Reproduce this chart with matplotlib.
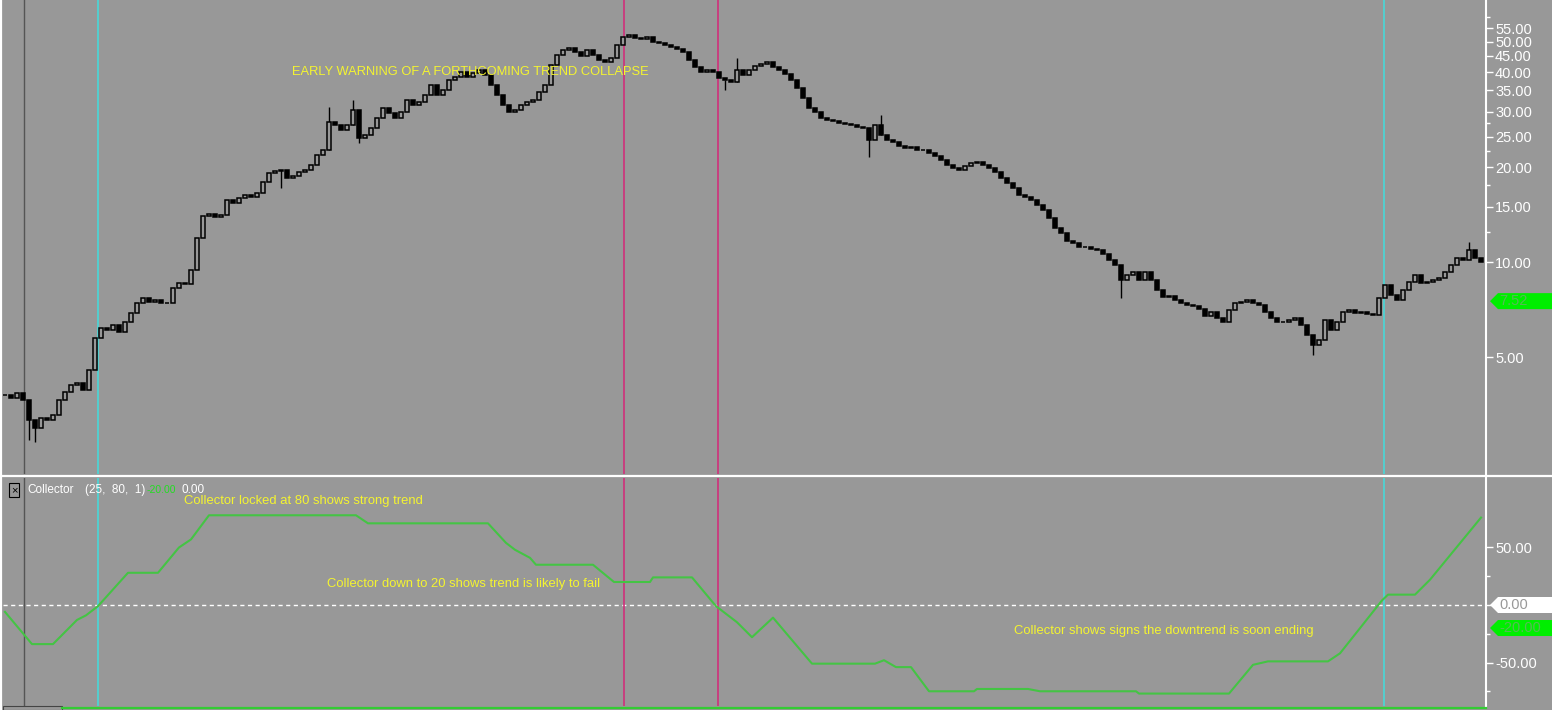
import numpy as np
import matplotlib
matplotlib.use("Agg")
import matplotlib.pyplot as plt
from matplotlib.patches import Polygon, Rectangle
from matplotlib.lines import Line2D
from matplotlib.ticker import FixedLocator, FormatStrFormatter, NullFormatter

# price bars (one close per bar, open = previous close)
closes = [
    3.79, 3.70, 3.84, 3.65, 3.16, 2.98, 3.21, 3.16, 3.27, 3.65,
    3.87, 4.07, 4.13, 3.93, 4.55, 5.74, 6.18, 6.09, 6.32, 6.00,
    6.46, 6.90, 7.42, 7.69, 7.47, 7.58, 7.42, 7.42, 8.28, 8.58,
    8.52, 9.43, 11.9, 14.0, 14.2, 13.9, 14.1, 15.7, 15.4, 16.0,
    16.3, 16.1, 16.5, 17.9, 19.2, 19.4, 19.6, 18.5, 18.7, 19.3,
    19.6, 20.3, 21.8, 22.7, 27.8, 27.2, 26.2, 27.2, 30.3, 24.7,
    25.3, 26.6, 28.6, 30.8, 29.7, 28.6, 29.9, 32.6, 31.5, 32.2,
    33.8, 36.4, 33.8, 35.1, 37.8, 38.6, 40.0, 38.6, 39.8, 40.6,
    39.1, 36.4, 33.8, 31.5, 29.9, 30.3, 31.5, 32.2, 32.6, 34.6,
    36.4, 42.1, 45.3, 46.9, 47.6, 46.3, 45.0, 46.9, 45.3, 43.7,
    43.0, 44.4, 48.8, 51.6, 52.5, 51.3, 51.0, 51.6, 49.9, 49.5,
    48.8, 48.0, 47.3, 46.3, 43.7, 41.5, 40.0, 40.6, 40.0, 38.3,
    37.8, 37.2, 40.6, 39.1, 40.6, 41.8, 42.4, 43.0, 41.5, 40.6,
    39.4, 37.8, 35.6, 33.1, 30.8, 29.9, 28.6, 28.2, 28.0, 27.6,
    27.4, 27.2, 26.8, 26.6, 24.4, 27.2, 25.3, 24.4, 24.0, 23.3,
    23.0, 23.2, 22.7, 22.7, 22.2, 21.7, 21.0, 20.3, 19.9, 19.6,
    20.2, 20.6, 20.8, 20.3, 19.9, 19.3, 18.5, 17.8, 17.2, 16.3,
    16.1, 15.7, 15.2, 14.6, 13.8, 12.8, 12.4, 11.7, 11.5, 11.2,
    11.2, 11.0, 10.9, 10.6, 10.15, 9.8, 8.8, 9.1, 9.3, 8.8,
    9.3, 8.8, 8.15, 7.75, 7.80, 7.58, 7.42, 7.31, 7.26, 7.10,
    6.75, 6.95, 6.65, 6.46, 7.05, 7.42, 7.47, 7.58, 7.42, 7.31,
    6.95, 6.65, 6.46, 6.46, 6.55, 6.65, 6.32, 5.87, 5.46, 5.66,
    6.55, 6.09, 6.46, 6.95, 7.05, 6.90, 6.95, 6.85, 6.80, 7.69,
    8.45, 7.86, 7.58, 8.15, 8.64, 9.10, 8.58, 8.64, 8.77, 8.90,
    9.30, 9.80, 10.3, 10.15, 10.9, 10.3, 10.0,
]

# a few bars with long wicks
wick_bars = [4, 5, 46, 54, 58, 59, 120, 122, 144, 146, 186, 218, 244]
wick_high = [3.65, 3.16, 19.6, 31.0, 32.6, 30.3, 37.8, 44.3, 26.6, 29.2, 9.3, 5.66, 11.6]
wick_low = [2.72, 2.69, 17.2, 22.7, 27.2, 23.8, 35.1, 37.2, 21.5, 25.3, 7.7, 5.07, 10.9]

# collector indicator vertices (bar, value)
coll_bars = [0, 4.5, 8, 12, 13.5, 15.5, 20.5, 25.5, 29, 31, 34, 58.5, 60.5, 80.5,
             83.5, 85, 87.5, 88.5, 98, 101.5, 107.5, 108, 114.5, 118.5, 122, 124.5,
             128, 134.5, 145, 146.5, 148.5, 151, 154, 161.5, 162, 170.5, 172.5,
             188.5, 189, 204, 208, 210.5, 220.5, 222.5, 229.5, 230.5, 235, 237.5, 246]
coll_vals = [-6, -34, -34, -13, -9, -1, 28, 28, 50, 57, 78, 78, 71, 71,
             54, 48, 41, 35, 35, 20, 20, 24, 24, -1, -15, -28,
             -11, -51, -51, -48, -54, -54, -75, -75, -73, -73, -75,
             -75, -77, -77, -52, -49, -49, -42, 4, 9, 9, 22, 76]

cyan_bars = [15.5, 229.8]
magenta_bars = [103.2, 118.8]
cursor_bar = 3.2

price_ticks = [5, 10, 15, 20, 25, 30, 35, 40, 45, 50, 55]
price_minor = [12.5, 17.5, 22.5, 27.5, 60]
coll_ticks = [-50, 0, 50]
coll_minor = [-75, -25, 25]

BG = "#989898"
W, H = 1552, 710
plt.rcParams["font.family"] = ["Liberation Sans", "DejaVu Sans"]

fig = plt.figure(figsize=(W / 100, H / 100), dpi=100, facecolor=BG)
ax = fig.add_axes([3 / W, (H - 474) / H, 1483 / W, 474 / H], facecolor=BG)
ax2 = fig.add_axes([3 / W, 4 / H, 1483 / W, 228 / H], facecolor=BG, sharex=ax)

n = len(closes)
x = np.arange(n)
opens = [closes[0]] + closes[:-1]
c = np.array(closes)
o = np.array(opens)
up = c >= o

# wicks
ax.vlines(wick_bars, wick_low, wick_high, color="black", lw=1.0, zorder=3)
# candle bodies
ax.bar(x[up], (c - o)[up], bottom=o[up], width=0.55, facecolor=BG,
       edgecolor="black", linewidth=1.1, zorder=4)
ax.bar(x[~up], (o - c)[~up], bottom=c[~up], width=0.55, facecolor="black",
       edgecolor="black", linewidth=1.1, zorder=4)

ax.set_yscale("log")
ax.set_ylim(2.13, 67.7)
ax.set_xlim(-0.33, 246.83)

ax2.plot(coll_bars, coll_vals, color="#44c444", lw=1.5, zorder=4)
ax2.axhline(0, color="white", lw=1.0, ls=(0, (3, 2.5)), zorder=2)
ax2.set_ylim(-87.8, 110.4)

for a in (ax, ax2):
    for b in cyan_bars:
        a.axvline(b, color="#48d8d8", lw=1.2, zorder=2)
    for b in magenta_bars:
        a.axvline(b, color="#d0307a", lw=1.2, zorder=2)
    a.axvline(cursor_bar, color="#555555", lw=1.0, zorder=1)
    for s in ("left", "top", "bottom"):
        a.spines[s].set_visible(False)
    a.spines["right"].set_color("white")
    a.spines["right"].set_linewidth(1.5)
    a.yaxis.tick_right()
    a.tick_params(axis="y", which="both", colors="white", direction="out",
                  labelsize=10.5, pad=1.5)
    a.tick_params(axis="y", which="major", length=5, width=1)
    a.tick_params(axis="y", which="minor", length=3, width=1)
    a.tick_params(axis="x", which="both", bottom=False, labelbottom=False)

ax.yaxis.set_major_locator(FixedLocator(price_ticks))
ax.yaxis.set_minor_locator(FixedLocator(price_minor))
ax.yaxis.set_major_formatter(FormatStrFormatter("%.2f"))
ax.yaxis.set_minor_formatter(NullFormatter())
ax2.yaxis.set_major_locator(FixedLocator(coll_ticks))
ax2.yaxis.set_minor_locator(FixedLocator(coll_minor))
ax2.yaxis.set_major_formatter(FormatStrFormatter("%.2f"))
for lab in ax2.get_yticklabels():
    if lab.get_text() == "0.00":
        lab.set_visible(False)

# annotations
yel = "#f4f430"
ax.text(47.8, 40.0, "EARLY WARNING OF A FORTHCOMING TREND COLLAPSE", color=yel,
        fontsize=9.25, va="center", ha="left", zorder=6)
ax2.text(29.8, 90, "Collector locked at 80 shows strong trend", color=yel,
         fontsize=9.4, va="center", ha="left", zorder=6)
ax2.text(53.7, 18.5, "Collector down to 20 shows trend is likely to fail", color=yel,
         fontsize=9.4, va="center", ha="left", zorder=6)
ax2.text(168.2, -23, "Collector shows signs the downtrend is soon ending", color=yel,
         fontsize=9.4, va="center", ha="left", zorder=6)

# indicator header
fig.text(14 / W, 1 - 490 / H, "×", color="black", fontsize=8, ha="center", va="center",
         bbox=dict(boxstyle="square,pad=0.15", fc="none", ec="black", lw=0.8))
fig.text(27 / W, 1 - 490 / H, "Collector", color="white", fontsize=8.5, va="center")
fig.text(85 / W, 1 - 490 / H, "(25,  80,  1)", color="white", fontsize=8.5, va="center")
fig.text(147 / W, 1 - 490 / H, "-20.00", color="#22dd22", fontsize=7.5, va="center")
fig.text(182 / W, 1 - 490 / H, "0.00", color="white", fontsize=8.5, va="center")

# white frame lines
fig.add_artist(Line2D([0, 1], [1 - 475.5 / H] * 2, color="white", lw=1.6,
                      transform=fig.transFigure))
fig.add_artist(Line2D([1 / W, 1 / W], [0, 1], color="white", lw=1.6,
                      transform=fig.transFigure))
fig.add_artist(Line2D([62 / W, 1486 / W], [1 - 707.5 / H] * 2, color="#33cc33", lw=1.6,
                      transform=fig.transFigure))
fig.add_artist(Rectangle((3 / W, 0), 59 / W, 4 / H, fill=False, ec="#444444", lw=0.8,
                         transform=fig.transFigure))


def value_tag(axis, val, text, fc, tc):
    fig.canvas.draw()
    yp = axis.transData.transform((0, val))[1]
    yf = yp / H
    hh = 8 / H
    pts = [(1490 / W, yf), (1498 / W, yf + hh), (1552 / W, yf + hh),
           (1552 / W, yf - hh), (1498 / W, yf - hh)]
    fig.add_artist(Polygon(pts, closed=True, fc=fc, ec="none", transform=fig.transFigure))
    fig.text(1499 / W, yf, text, color=tc, fontsize=10.5, va="center", ha="left")


value_tag(ax, 7.52, "7.52", "#00ee00", "#55bb55")
value_tag(ax2, 0, "0.00", "white", "#999999")
value_tag(ax2, -20, "-20.00", "#00ee00", "#55bb55")

fig.savefig("out.png", dpi=100, facecolor=BG)
